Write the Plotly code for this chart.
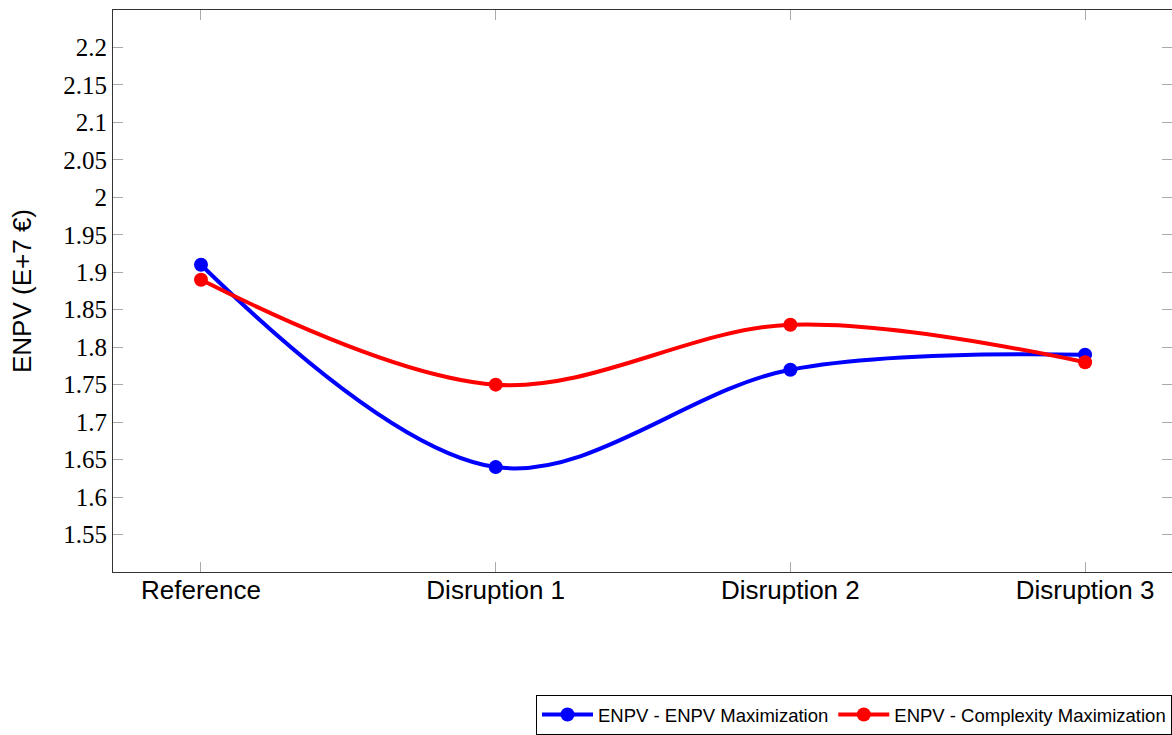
import plotly.graph_objects as go

categories = ["Reference", "Disruption 1", "Disruption 2", "Disruption 3"]
enpv_max = [1.91, 1.64, 1.77, 1.79]
complexity_max = [1.89, 1.75, 1.83, 1.78]
y_ticks = [1.55, 1.6, 1.65, 1.7, 1.75, 1.8, 1.85, 1.9, 1.95, 2.0, 2.05, 2.1, 2.15, 2.2]
y_ticktext = ["1.55", "1.6", "1.65", "1.7", "1.75", "1.8", "1.85", "1.9", "1.95", "2", "2.05", "2.1", "2.15", "2.2"]

xpos = list(range(len(categories)))

fig = go.Figure()
fig.add_trace(go.Scatter(
    x=xpos, y=enpv_max, mode="lines+markers", name="ENPV - ENPV Maximization",
    line=dict(color="#0000ff", width=4, shape="spline", smoothing=1.0),
    marker=dict(color="#0000ff", size=14, symbol="circle"),
))
fig.add_trace(go.Scatter(
    x=xpos, y=complexity_max, mode="lines+markers", name="ENPV - Complexity Maximization",
    line=dict(color="#ff0000", width=4, shape="spline", smoothing=1.0),
    marker=dict(color="#ff0000", size=14, symbol="circle"),
))

fig.update_layout(
    width=1172, height=735,
    margin=dict(l=113, r=0, t=10, b=163),
    plot_bgcolor="white", paper_bgcolor="white",
    showlegend=True,
    legend=dict(
        orientation="h", x=1, xanchor="right", y=-0.29, yanchor="bottom",
        bordercolor="black", borderwidth=1, bgcolor="white",
        font=dict(family="Liberation Sans, Arial, sans-serif", size=18.5, color="black"),
        itemwidth=51, tracegroupgap=0,
    ),
    xaxis=dict(
        range=[-0.2986, 3.295], tickmode="array", tickvals=xpos, ticktext=categories,
        showgrid=False, zeroline=False, showline=True, linecolor="#333333", linewidth=1,
        mirror="ticks", ticks="inside", ticklen=10, tickcolor="#aaaaaa",
        ticklabelstandoff=-5,
        tickfont=dict(family="Liberation Sans, Arial, sans-serif", size=26, color="black"),
    ),
    yaxis=dict(
        range=[1.5, 2.25], tickmode="array", tickvals=y_ticks, ticktext=y_ticktext,
        showgrid=False, zeroline=False, showline=True, linecolor="#333333", linewidth=1,
        mirror="ticks", ticks="inside", ticklen=10, tickcolor="#aaaaaa",
        tickfont=dict(family="Liberation Serif, Times New Roman, serif", size=25, color="black"),
        title=dict(text="ENPV (E+7 €)", standoff=24,
                   font=dict(family="Liberation Sans, Arial, sans-serif", size=26, color="black")),
    ),
)

fig.write_html("out.html")
